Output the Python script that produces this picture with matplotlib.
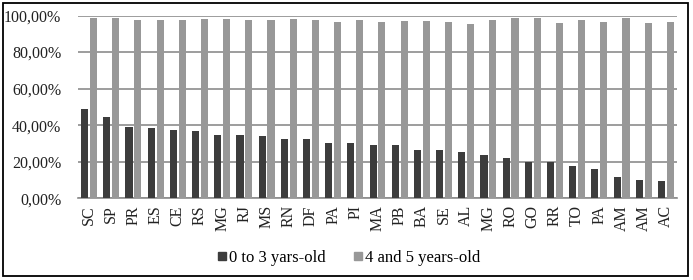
#!/usr/bin/env python3

import matplotlib
matplotlib.use('Agg')
import matplotlib.pyplot as plt
from matplotlib.lines import Line2D
from matplotlib.patches import Rectangle
from matplotlib.ticker import FuncFormatter
import numpy as np

states = ['SC', 'SP', 'PR', 'ES', 'CE', 'RS', 'MG', 'RJ', 'MS', 'RN', 'DF', 'PA', 'PI', 'MA',
          'PB', 'BA', 'SE', 'AL', 'MG', 'RO', 'GO', 'RR', 'TO', 'PA', 'AM', 'AM', 'AC']
age_0_3 = [49.1, 44.4, 39.1, 38.2, 37.5, 36.9, 34.5, 34.5, 34.0, 32.2, 32.2, 30.5, 30.0, 29.1,
           29.1, 26.2, 26.2, 25.1, 23.8, 22.0, 19.8, 19.8, 17.6, 16.2, 11.5, 10.0, 9.6]
age_4_5 = [98.9, 98.9, 97.8, 97.4, 97.4, 98.2, 98.2, 97.8, 97.4, 98.2, 97.8, 96.4, 97.8, 96.4,
           97.1, 97.1, 96.4, 95.5, 97.8, 98.4, 98.9, 95.8, 97.8, 96.4, 98.4, 95.8, 96.4]
labels = ['0 to 3 yars-old', '4 and 5 years-old']

dark = '#3c3c3c'
light = '#989898'
grid = '#8c8c8c'

plt.rcParams['font.family'] = ['Liberation Serif', 'DejaVu Serif']

fig = plt.figure(figsize=(6.93, 2.80), dpi=100)
ax = fig.add_axes([78 / 693, 1 - 198.3 / 280, 599 / 693, 182.8 / 280])

x = np.arange(len(states))
w = 0.32
ax.bar(x - 0.2, np.array(age_0_3) / 100, w, color=dark, zorder=3)
ax.bar(x + 0.2, np.array(age_4_5) / 100, w, color=light, zorder=3)

ax.set_xlim(-0.5, len(states) - 0.5)
ax.set_ylim(0, 1)
ax.set_yticks(np.arange(0, 1.01, 0.2))
ax.yaxis.set_major_formatter(FuncFormatter(lambda v, p: f'{v * 100:.2f}%'.replace('.', ',')))
ax.yaxis.grid(True, color=grid, lw=1.2, zorder=0)
ax.set_xticks(x)
ax.set_xticklabels(states, rotation=90, fontsize=11.5)
ax.tick_params(axis='y', labelsize=11.5, length=0, pad=12, labelcolor='#222222')
ax.tick_params(axis='x', length=0, pad=5, labelcolor='#222222')
for s in ['top', 'right', 'left']:
    ax.spines[s].set_visible(False)
ax.spines['bottom'].set_color(grid)
ax.spines['bottom'].set_linewidth(1.2)

handles = [Line2D([], [], ls='', marker='s', markersize=6, color=dark),
           Line2D([], [], ls='', marker='s', markersize=6, color=light)]
fig.legend(handles, labels, loc='center', bbox_to_anchor=(0.502, 1 - 258 / 280),
           ncol=2, frameon=False, fontsize=12, handletextpad=0.05, columnspacing=1.5,
           handlelength=0.8)

fig.add_artist(Rectangle((3 / 693, 4 / 280), 685 / 693, 273 / 280, transform=fig.transFigure,
                         fill=False, ec='black', lw=1.3))

plt.savefig('out.png', dpi=100)
plt.close()
